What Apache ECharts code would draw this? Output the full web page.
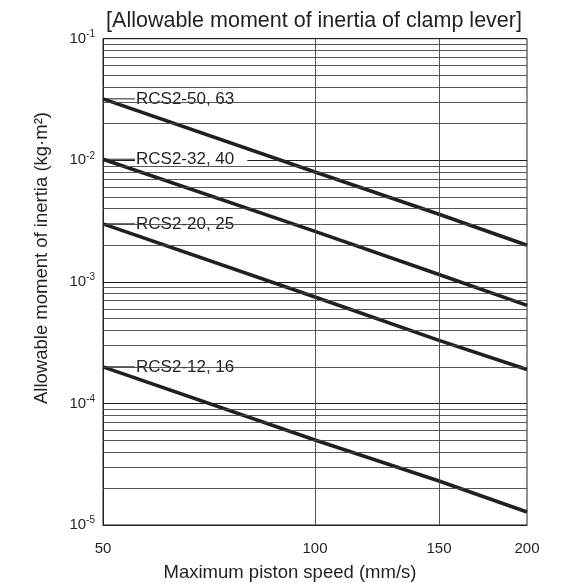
<!DOCTYPE html>
<html><head><meta charset="utf-8">
<script src="https://cdn.jsdelivr.net/npm/echarts@6/dist/echarts.min.js"></script>
<style>html,body{margin:0;padding:0;background:#fff}#c{width:573px;height:583px}</style>
</head><body><div id="c"></div>
<script>
// ---- data ----
const speeds = [50, 100, 150, 200];
const rcs2_50_63 = [0.032, 0.008, 0.0036, 0.002];
const rcs2_32_40 = [0.0102, 0.0026, 0.00115, 0.00064];
const rcs2_20_25 = [0.003, 0.00075, 0.00033, 0.00019];
const rcs2_12_16 = [0.0002, 0.00005, 0.000023, 0.0000128];
const seriesNames = ['RCS2-50, 63', 'RCS2-32, 40', 'RCS2-20, 25', 'RCS2-12, 16'];
const xTickLabels = [50, 100, 150, 200];
const xGridValues = [100, 150];
const yDecades = [1e-5, 1e-4, 1e-3, 1e-2];
const yMinorMultipliers = [2, 3, 4, 5, 6, 7, 8, 9];

const allSeries = [rcs2_50_63, rcs2_32_40, rcs2_20_25, rcs2_12_16];
const ink = '#231f20';
const FONT = 'Liberation Sans, Arial, Helvetica, sans-serif';

const minorVals = [];
yDecades.forEach(d => yMinorMultipliers.forEach(m => minorVals.push(+(d * m).toPrecision(3))));

const chart = echarts.init(document.getElementById('c'), null, {renderer: 'canvas'});
const series = [];

// minor grid lines + vertical grid lines
series.push({
  type: 'line', data: [], z: 1, silent: true,
  markLine: {
    silent: true, symbol: ['none', 'none'], animation: false, precision: 12,
    label: {show: false},
    emphasis: {disabled: true},
    lineStyle: {color: '#444', width: 0.9, type: 'solid'},
    data: minorVals.map(v => ({yAxis: v})).concat(xGridValues.map(v => ({xAxis: v})))
  }
});

// label boxes
series.push({
  type: 'scatter', z: 2, silent: true, symbolSize: 0,
  itemStyle: {opacity: 1},
  data: allSeries.map((s, i) => ({value: [speeds[0], s[0]], name: seriesNames[i]})),
  label: {
    show: true, position: 'right', distance: 0, opacity: 1,
    formatter: p => '{lead|}{t|' + p.name + '}',
    rich: {
      lead: {width: 32, height: 1, backgroundColor: ink},
      t: {fontFamily: FONT, fontSize: 17, color: ink,
          backgroundColor: '#fff', padding: [2, 13, 1, 1], height: 16}
    }
  }
});

allSeries.forEach((s, i) => {
  series.push({
    type: 'line', name: seriesNames[i], z: 3,
    data: speeds.map((x, j) => [x, s[j]]),
    showSymbol: false, symbol: 'none', smooth: false, silent: true,
    lineStyle: {color: ink, width: 3.6},
    animation: false
  });
});

chart.setOption({
  animation: false,
  backgroundColor: '#fff',
  title: {
    text: '[Allowable moment of inertia of clamp lever]',
    left: 309, textAlign: 'center', top: 5,
    textStyle: {fontFamily: FONT, fontSize: 21.5, fontWeight: 'normal', color: ink}
  },
  graphic: [
    {type: 'text', x: 42, y: 258, rotation: Math.PI / 2, silent: true,
     style: {text: 'Allowable moment of inertia (kg·m²)', fill: ink, font: '18.5px ' + FONT,
             textAlign: 'center', textVerticalAlign: 'middle'}},
    {type: 'text', x: 290, y: 573, silent: true,
     style: {text: 'Maximum piston speed (mm/s)', fill: ink, font: '18.5px ' + FONT,
             textAlign: 'center', textVerticalAlign: 'middle'}}
  ],
  grid: {left: 103, right: 46, top: 38.7, bottom: 58, show: true, borderColor: ink, borderWidth: 1, backgroundColor: 'transparent'},
  xAxis: {
    type: 'log', logBase: 10, min: 50, max: 200,
    axisLine: {show: true, lineStyle: {color: ink, width: 1}},
    axisTick: {show: false},
    splitLine: {show: false},
    minorTick: {show: false},
    axisLabel: {
      customValues: xTickLabels, showMinLabel: true, showMaxLabel: true,
      margin: 16, color: ink, fontSize: 15, fontFamily: FONT
    }
  },
  yAxis: {
    type: 'log', logBase: 10, min: 1e-5, max: 0.1,
    axisLine: {show: true, lineStyle: {color: ink, width: 1}},
    axisTick: {show: false},
    splitLine: {show: true, lineStyle: {color: ink, width: 1}},
    axisLabel: {
      margin: 8, color: ink,
      formatter: v => {
        const e = Math.round(Math.log10(v));
        return '{b|10}{s|' + e + '}';
      },
      rich: {
        b: {fontSize: 15, fontFamily: FONT, color: ink},
        s: {fontSize: 10, fontFamily: FONT, color: ink, padding: [0, 0, 9, 0]}
      }
    }
  },
  series: series
});
</script></body></html>
